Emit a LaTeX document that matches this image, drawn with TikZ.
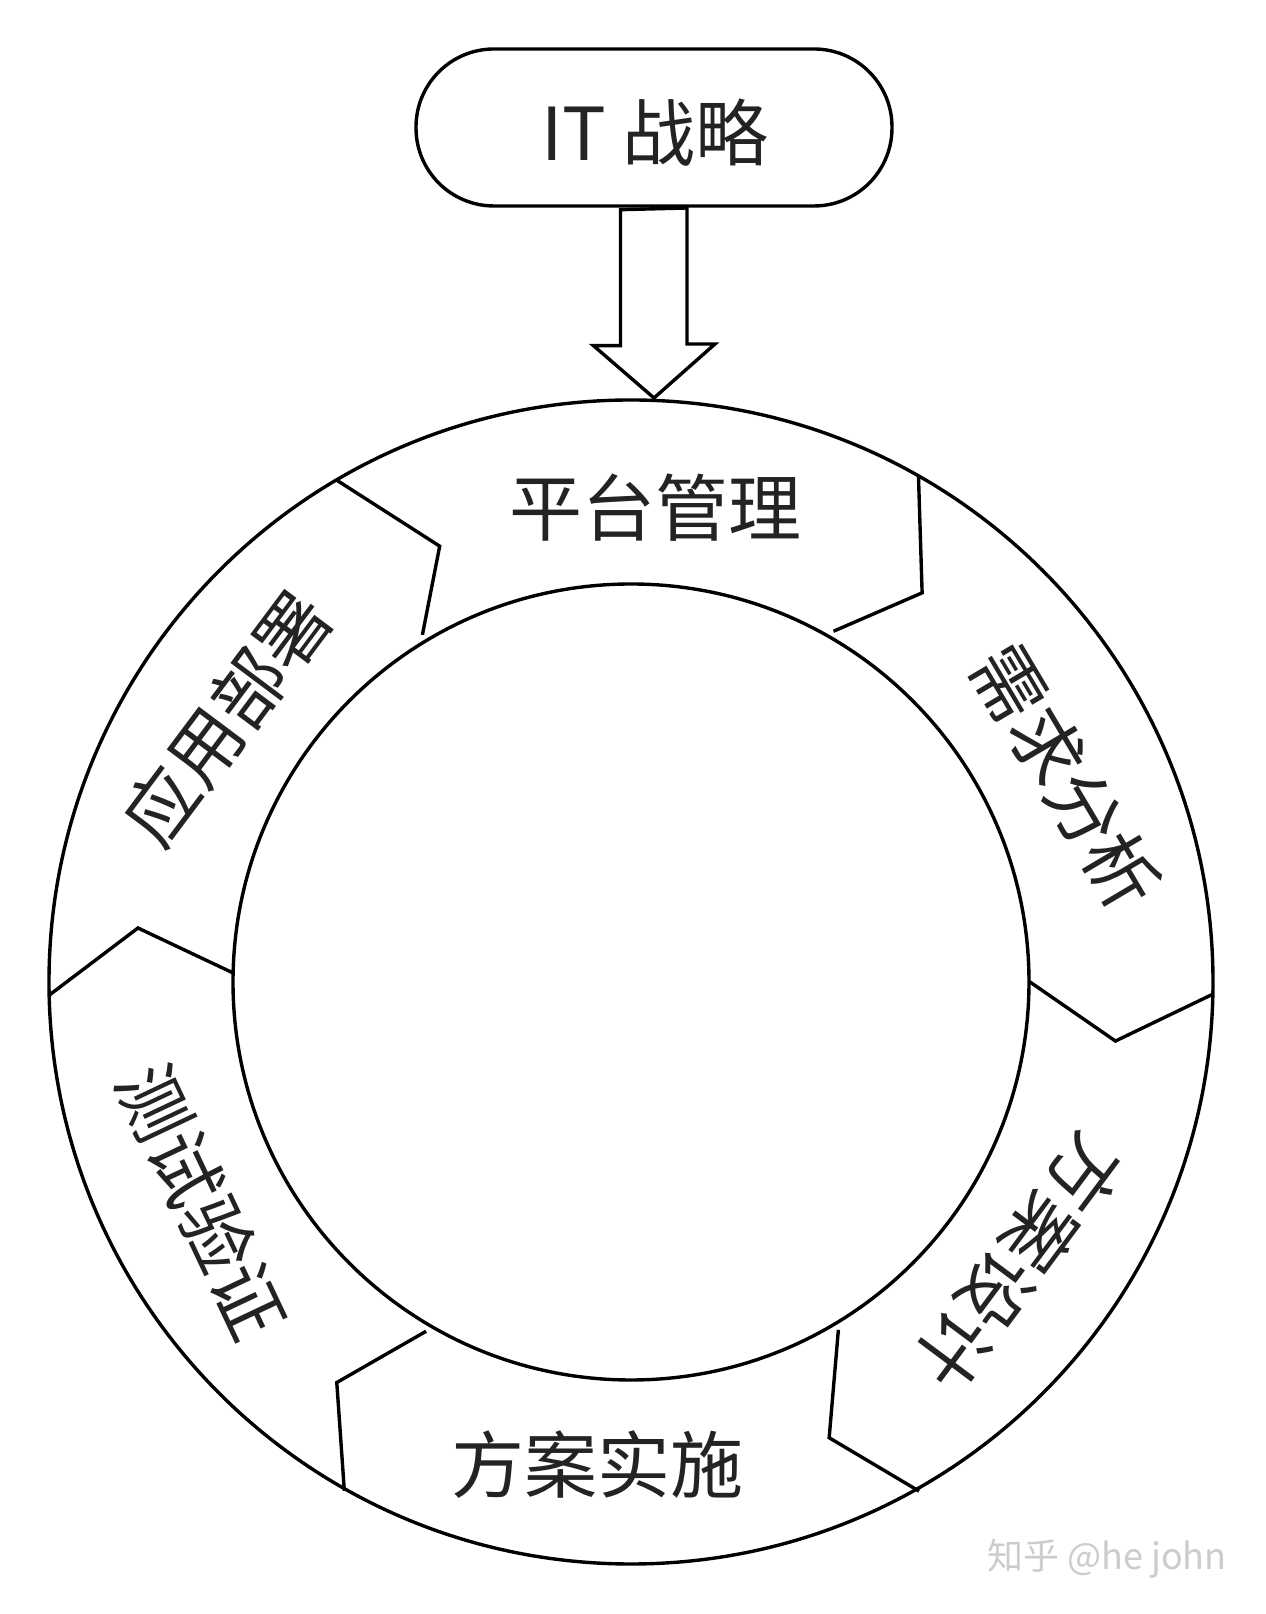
\documentclass[tikz,border=0pt]{standalone}
\usepackage{fontspec}
\setmainfont{Noto Sans CJK SC}
\definecolor{txt}{HTML}{232323}
\begin{document}
\begin{tikzpicture}[x=1pt,y=1pt]
\useasboundingbox (0,0) rectangle (1266,1614);
\fill[white] (0,0) rectangle (1266,1614);
\tikzset{
  ring/.style={draw=black, line width=3.4pt},
  divider/.style={draw=black, line width=3.4pt, line join=miter},
  lbl/.style={font=\fontsize{73}{80}\selectfont, text=txt, inner sep=0pt,
              text height=64pt, text depth=9pt},
  pill/.style={draw=black, line width=3.4pt, rounded corners=78pt,
               minimum width=476pt, minimum height=157pt, inner sep=0pt},
  blockarrow/.style={draw=black, line width=3.4pt, line join=miter, fill=white},
  wmark/.style={font=\fontsize{36}{40}\selectfont, text=gray!40, inner sep=0pt}
}
% ring
\coordinate (C) at (631,632);
\draw[ring] (C) circle[radius=582];
\draw[ring] (C) circle[radius=398];
% top pill and arrow
\node[pill] (it) at (654,1486.5) {};
\node[lbl] (ittxt) at (655,1481) {IT 战略};
\coordinate (tip) at (654,1216);
\draw[blockarrow] ([xshift=-33.5pt,yshift=-2pt]it.south) -- ++(0,-136) -- ++(-27,0) -- (tip)
  -- ++(61,54) -- ++(-28,0) -- ++(0,136) -- cycle;
% dividers (chevrons)
\foreach \ao/\vv/\vr/\ai/\ir/\orr in {120.4/113.7/476/121/405/582,
   60.4/53.2/486/60/405/582, -1.2/-6.95/488/0.1/398/582,
   -60.5/-66.5/497/-59.2/405/585, -119.4/-126.3/497/-120.4/405/584,
   181.3/173.75/496/178.7/398/582}
  \draw[divider, shift={(C)}] (\ao:\orr) -- (\vv:\vr) -- (\ai:\ir);
% labels
\node[lbl] (pt) at (655,1105.5) {平台管理};
\node[lbl, rotate=-59.3] (xq) at (1066,837) {需求分析};
\node[lbl, rotate=-126.7] (fa) at (1019,352) {方案设计};
\node[lbl] (ss) at (597,148.5) {方案实施};
\node[lbl, rotate=-64.7] (cs) at (202,412) {测试验证};
\node[lbl, rotate=53.2] (yy) at (227,896) {应用部署};
% watermark
\node[wmark] (wm) at (1107,55) {知乎 @he john};
\end{tikzpicture}
\end{document}
